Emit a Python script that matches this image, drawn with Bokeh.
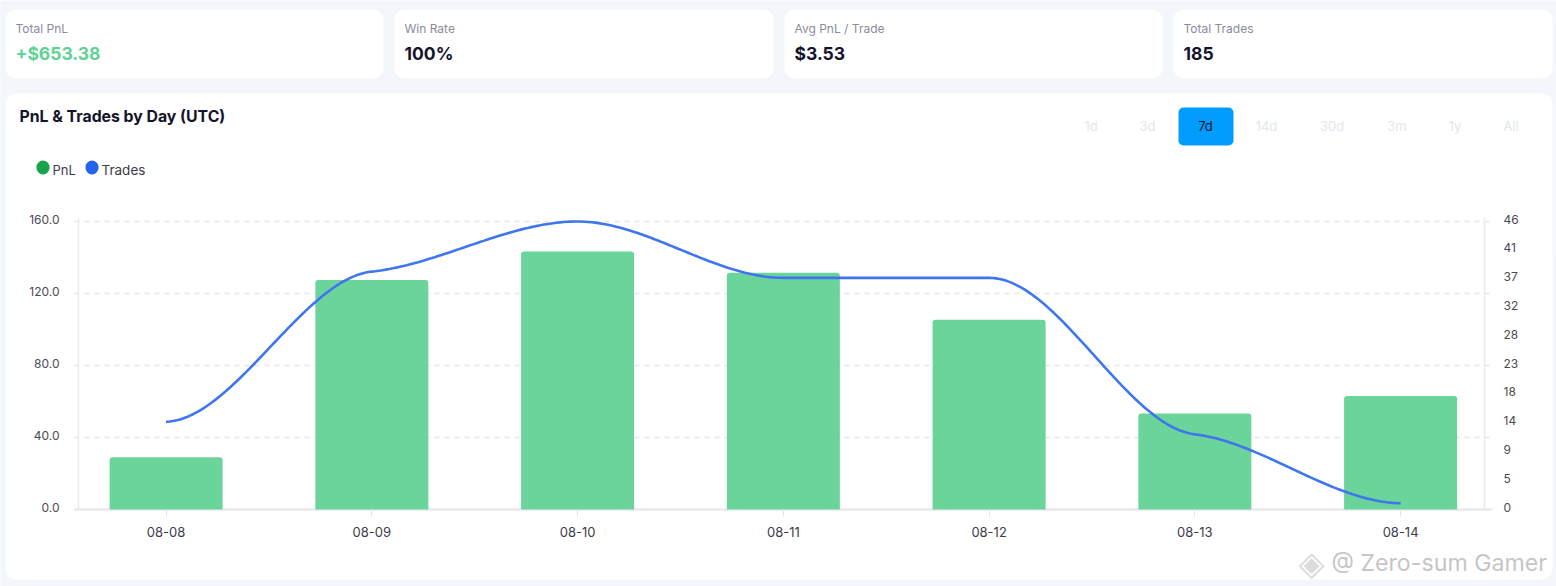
import numpy as np
from bokeh.plotting import figure
from bokeh.models import BoxAnnotation, Label, Range1d, LinearAxis, FixedTicker
from bokeh.embed import file_html
from bokeh.resources import INLINE

days = ["08-08", "08-09", "08-10", "08-11", "08-12", "08-13", "08-14"]
pnl = [29.0, 127.5, 143.4, 131.5, 105.4, 53.4, 63.0]
trades = [14, 38, 46, 37, 37, 12, 1]
pnl_ticks = [0, 40, 80, 120, 160]
pnl_tick_labels = ["0.0", "40.0", "80.0", "120.0", "160.0"]
trade_ticks = [0, 4.6, 9.2, 13.8, 18.4, 23, 27.6, 32.2, 36.8, 41.4, 46]
trade_tick_labels = ["0", "5", "9", "14", "18", "23", "28", "32", "37", "41", "46"]
stats = [("Total PnL", "+$653.38"), ("Win Rate", "100%"), ("Avg PnL / Trade", "$3.53"), ("Total Trades", "185")]
ranges = ["1d", "3d", "7d", "14d", "30d", "3m", "1y", "All"]
series_names = ["PnL", "Trades"]

FONT = "Inter"
W, H = 1556, 586
Y0, YTOP = 509, 221
X0, STEP = 165.6, 205.75
LABEL_LIFT = 2.5
px_pnl = (Y0 - YTOP) / 160
px_tr = (Y0 - YTOP) / 46


def xd(px):
    return (px - X0) / STEP


p = figure(width=W, height=H, output_backend="svg", toolbar_location=None,
           x_range=Range1d(xd(0), xd(W)),
           y_range=Range1d((Y0 - H) / px_pnl, Y0 / px_pnl),
           min_border=0, background_fill_color="#f3f6fa", border_fill_color="#f3f6fa", outline_line_color=None)
p.extra_y_ranges = {
    "trades": Range1d((Y0 - H) / px_tr, Y0 / px_tr),
    "pnl_labels": Range1d((Y0 - LABEL_LIFT - H) / px_pnl, (Y0 - LABEL_LIFT) / px_pnl),
    "trade_labels": Range1d((Y0 - LABEL_LIFT - H) / px_tr, (Y0 - LABEL_LIFT) / px_tr),
}


def box(l, r, t, b, color, radius):
    p.add_layout(BoxAnnotation(left=l, right=r, top=t, bottom=b, left_units="canvas", right_units="canvas",
                               top_units="canvas", bottom_units="canvas", fill_color=color, fill_alpha=1,
                               line_color=None, border_radius=radius, level="image", editable=False))


def label(x, y, text, size, color, bold=False, align="left", font=FONT):
    p.add_layout(Label(x=x, y=y, x_units="canvas", y_units="canvas", text=text, text_font=font,
                       text_font_size=f"{size}px", text_color=color, text_align=align,
                       text_baseline="middle", text_font_style="bold" if bold else "normal"))


# cards
card_x = [(5, 383), (394, 773), (784, 1162), (1173, 1552)]
for (l, r) in card_x:
    box(l, r, 9, 78, "white", 10)
box(5, 1552, 93, 579, "white", 10)
for i, ((l, r), (name, val)) in enumerate(zip(card_x, stats)):
    label(l + 10, 27.5, name, 12, "#8b8b9b")
    label(l + 10, 53, val, 17.5, "#5fd296" if i == 0 else "#14142b", bold=True)

label(19, 116, "PnL & Trades by Day (UTC)", 15.8, "#14142b", bold=True)

# range buttons
box(1178, 1233, 107, 145, "#009dff", 5)
range_x = [1090.5, 1147, 1205, 1266, 1331.5, 1396.5, 1454.5, 1510.5]
for x, t in zip(range_x, ranges):
    label(x, 125, t, 13, "#14142b" if t == "7d" else "#e4e6ee", align="center")

# legend
box(36, 49, 160, 174, "#16a34a", 7)
box(85, 98, 160, 174, "#2563eb", 7)
label(52, 169, series_names[0], 13, "#3c3c4a")
label(101, 169, series_names[1], 13.5, "#3c3c4a")

# watermark
label(1311, 562, "\u25c8", 34, "#dcdcdc", align="center", font="DejaVu Sans")
label(1331, 562, "@ Zero-sum Gamer", 23.2, "#c6c6c6")

# grid and axis lines
p.grid.visible = False
gx0, gx1 = xd(74), xd(1492)
p.segment(x0=[gx0] * len(pnl_ticks), x1=[gx1] * len(pnl_ticks), y0=pnl_ticks, y1=pnl_ticks,
          line_color="#e6e6ea", line_width=1.5, line_dash="5 5")
p.segment(x0=[xd(78), xd(1484)], x1=[xd(78), xd(1484)], y0=[0, 0], y1=[162, 162],
          line_color="#ececf0", line_width=1.5)
p.segment(x0=[gx0], x1=[gx1], y0=[0], y1=[0], line_color="#e6e6ea", line_width=2)

# bars
idx = np.arange(len(days))
p.vbar(x=idx, top=pnl, bottom=0, width=113 / STEP, fill_color="#6bd49a", line_color=None, border_radius=(3, 3, 0, 0))

# curve of trades: cubic Hermite between the daily values
t = np.array(trades, dtype=float)
m = np.zeros(len(t))
for i in range(1, len(t) - 1):
    if (t[i] - t[i - 1]) * (t[i + 1] - t[i]) > 0:
        m[i] = 0.22 * (t[i + 1] - t[i - 1]) / 2
m[0], m[-1] = 1.5, -0.6
cx, cy = [], []
for i in range(len(t) - 1):
    u = np.linspace(0, 1, 60)
    cx.extend(i + u)
    cy.extend((2*u**3 - 3*u**2 + 1) * t[i] + (u**3 - 2*u**2 + u) * m[i]
              + (-2*u**3 + 3*u**2) * t[i + 1] + (u**3 - u**2) * m[i + 1])
p.line(cx, cy, y_range_name="trades", line_color="#3f76ee", line_width=2.6)

# axes
left = p.yaxis[0]
left.y_range_name = "pnl_labels"
left.fixed_location = xd(65)
left.ticker = FixedTicker(ticks=pnl_ticks)
left.major_label_overrides = dict(zip(pnl_ticks, pnl_tick_labels))
left.axis_line_color = None
left.major_tick_line_color = None
left.minor_tick_line_color = None
left.major_label_standoff = 0
left.major_label_text_font = FONT
left.major_label_text_font_size = "12px"
left.major_label_text_color = "#4a4a55"

right = LinearAxis(y_range_name="trade_labels", ticker=FixedTicker(ticks=trade_ticks),
                   major_label_overrides=dict(zip(trade_ticks, trade_tick_labels)), fixed_location=xd(1497))
right.axis_line_color = None
right.major_tick_line_color = None
right.minor_tick_line_color = None
right.major_label_standoff = 0
right.major_label_text_font = FONT
right.major_label_text_font_size = "12px"
right.major_label_text_color = "#4a4a55"
p.add_layout(right, "right")

xa = p.xaxis[0]
xa.fixed_location = 0
xa.ticker = FixedTicker(ticks=list(idx))
xa.major_label_overrides = {int(i): d for i, d in zip(idx, days)}
xa.axis_line_color = None
xa.major_tick_line_color = "#e6e6ea"
xa.major_tick_in = 0
xa.major_tick_out = 7
xa.minor_tick_line_color = None
xa.major_label_standoff = 10
xa.major_label_text_font = FONT
xa.major_label_text_font_size = "13px"
xa.major_label_text_color = "#3c3c4a"

open("out.html", "w").write(file_html(p, INLINE))
